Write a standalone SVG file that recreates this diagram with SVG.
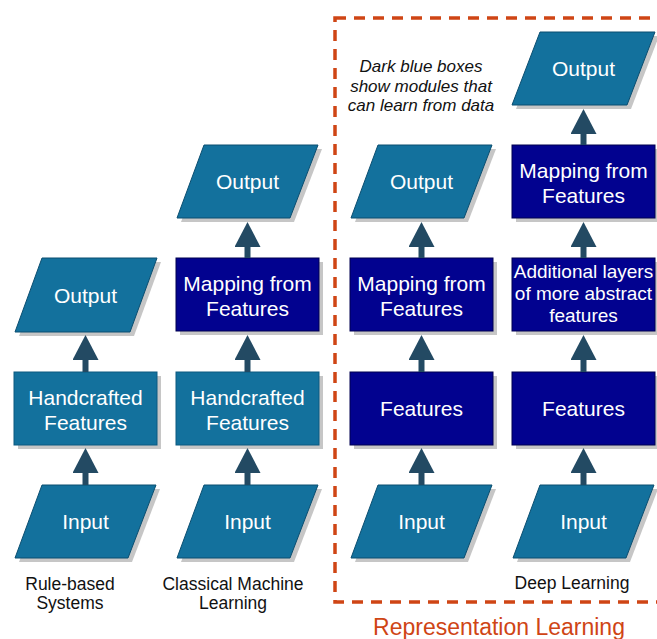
<svg xmlns="http://www.w3.org/2000/svg" width="657" height="639" viewBox="0 0 657 639">
  <style>
    .io { fill: #13719d; stroke: #0b4e70; stroke-width: 1; }
    .hand { fill: #13719d; stroke: #0c5a80; stroke-width: 1; }
    .learn { fill: #02028f; stroke: #000050; stroke-width: 1; }
    .shadow { fill: #c6c6c6; }
    .box-text { font-family: "Liberation Sans", Arial, sans-serif; font-size: 21px; fill: #ffffff; text-anchor: middle; }
    .small-text { font-size: 19px; }
    .label { font-family: "Liberation Sans", Arial, sans-serif; font-size: 17.5px; fill: #111111; text-anchor: middle; }
    .note { font-family: "Liberation Sans", Arial, sans-serif; font-size: 17px; font-style: italic; fill: #111111; text-anchor: middle; }
    .region { fill: none; stroke: #cf4515; stroke-width: 3.5; stroke-dasharray: 11 8; }
    .region-title { font-family: "Liberation Sans", Arial, sans-serif; font-size: 23px; fill: #cf4515; text-anchor: middle; }
    .conn { stroke: #234a63; stroke-width: 6; fill: none; marker-end: url(#head); }
  </style>
  <defs>
    <marker id="head" viewBox="0 0 25 26" refX="0" refY="13" markerWidth="25" markerHeight="26" markerUnits="userSpaceOnUse" orient="auto">
      <path d="M0,0 L25,13 L0,26 Z" fill="#234a63"/>
    </marker>
  </defs>
  <rect width="657" height="639" fill="#ffffff"/>

  <!-- representation learning region -->
  <g id="region">
    <rect class="region" x="335" y="18" width="330" height="584"/>
    <text class="region-title" x="499" y="635">Representation Learning</text>
    <text class="note" x="421" y="72">Dark blue boxes</text>
    <text class="note" x="421" y="92">show modules that</text>
    <text class="note" x="421" y="111">can learn from data</text>
  </g>

  <!-- column 1: rule-based systems -->
  <g id="c1-input">
    <polygon class="shadow" points="46,489 160,489 132,562 19,562"/>
    <polygon class="io" points="42,485 156,485 128,558 15,558"/>
    <text class="box-text" x="85.5" y="529">Input</text>
  </g>
  <g id="c1-features">
    <rect class="shadow" x="18" y="376" width="143" height="73"/>
    <rect class="hand" x="14" y="372" width="143" height="73"/>
    <text class="box-text" x="85.5" y="405">Handcrafted</text>
    <text class="box-text" x="85.5" y="430">Features</text>
  </g>
  <g id="c1-output">
    <polygon class="shadow" points="46,262 161,262 134,336 19,336"/>
    <polygon class="io" points="42,258 157,258 130,332 15,332"/>
    <text class="box-text" x="85.5" y="302.5">Output</text>
  </g>
  <g id="c1-label">
    <text class="label" x="70" y="590">Rule-based</text>
    <text class="label" x="70" y="609">Systems</text>
  </g>

  <!-- column 2: classical machine learning -->
  <g id="c2-input">
    <polygon class="shadow" points="208,489 322,489 294,562 181,562"/>
    <polygon class="io" points="204,485 318,485 290,558 177,558"/>
    <text class="box-text" x="247.5" y="529">Input</text>
  </g>
  <g id="c2-features">
    <rect class="shadow" x="180" y="376" width="143" height="73"/>
    <rect class="hand" x="176" y="372" width="143" height="73"/>
    <text class="box-text" x="247.5" y="405">Handcrafted</text>
    <text class="box-text" x="247.5" y="430">Features</text>
  </g>
  <g id="c2-mapping">
    <rect class="shadow" x="180" y="262" width="143" height="73"/>
    <rect class="learn" x="176" y="258" width="143" height="73"/>
    <text class="box-text" x="247.5" y="291">Mapping from</text>
    <text class="box-text" x="247.5" y="316">Features</text>
  </g>
  <g id="c2-output">
    <polygon class="shadow" points="208,149 322,149 294,222 181,222"/>
    <polygon class="io" points="204,145 318,145 290,218 177,218"/>
    <text class="box-text" x="247.5" y="189">Output</text>
  </g>
  <g id="c2-label">
    <text class="label" x="233" y="590">Classical Machine</text>
    <text class="label" x="233" y="609">Learning</text>
  </g>

  <!-- column 3: representation learning -->
  <g id="c3-input">
    <polygon class="shadow" points="382,489 496,489 468,562 355,562"/>
    <polygon class="io" points="378,485 492,485 464,558 351,558"/>
    <text class="box-text" x="421.5" y="529">Input</text>
  </g>
  <g id="c3-features">
    <rect class="shadow" x="354" y="376" width="143" height="73"/>
    <rect class="learn" x="350" y="372" width="143" height="73"/>
    <text class="box-text" x="421.5" y="416">Features</text>
  </g>
  <g id="c3-mapping">
    <rect class="shadow" x="354" y="262" width="143" height="73"/>
    <rect class="learn" x="350" y="258" width="143" height="73"/>
    <text class="box-text" x="421.5" y="291">Mapping from</text>
    <text class="box-text" x="421.5" y="316">Features</text>
  </g>
  <g id="c3-output">
    <polygon class="shadow" points="382,149 496,149 468,222 355,222"/>
    <polygon class="io" points="378,145 492,145 464,218 351,218"/>
    <text class="box-text" x="421.5" y="189">Output</text>
  </g>

  <!-- column 4: deep learning -->
  <g id="c4-input">
    <polygon class="shadow" points="544,489 658,489 630,562 517,562"/>
    <polygon class="io" points="540,485 654,485 626,558 513,558"/>
    <text class="box-text" x="583.5" y="529">Input</text>
  </g>
  <g id="c4-features">
    <rect class="shadow" x="516" y="376" width="143" height="73"/>
    <rect class="learn" x="512" y="372" width="143" height="73"/>
    <text class="box-text" x="583.5" y="416">Features</text>
  </g>
  <g id="c4-abstract">
    <rect class="shadow" x="516" y="262" width="143" height="73"/>
    <rect class="learn" x="512" y="258" width="143" height="73"/>
    <text class="box-text small-text" x="583.5" y="278">Additional layers</text>
    <text class="box-text small-text" x="583.5" y="300">of more abstract</text>
    <text class="box-text small-text" x="583.5" y="322">features</text>
  </g>
  <g id="c4-mapping">
    <rect class="shadow" x="516" y="149" width="143" height="73"/>
    <rect class="learn" x="512" y="145" width="143" height="73"/>
    <text class="box-text" x="583.5" y="178">Mapping from</text>
    <text class="box-text" x="583.5" y="203">Features</text>
  </g>
  <g id="c4-output">
    <polygon class="shadow" points="544,36 659,36 631,109 516,109"/>
    <polygon class="io" points="540,32 655,32 627,105 512,105" stroke="#102a3a"/>
    <text class="box-text" x="583.5" y="76">Output</text>
  </g>
  <g id="c4-label">
    <text class="label" x="572" y="589">Deep Learning</text>
  </g>

  <!-- connectors -->
  <g id="connectors">
    <line class="conn" x1="85.5" y1="485" x2="85.5" y2="473"/>
    <line class="conn" x1="85.5" y1="372" x2="85.5" y2="360"/>

    <line class="conn" x1="247.5" y1="485" x2="247.5" y2="473"/>
    <line class="conn" x1="247.5" y1="372" x2="247.5" y2="360"/>
    <line class="conn" x1="247.5" y1="258" x2="247.5" y2="247"/>

    <line class="conn" x1="421.5" y1="485" x2="421.5" y2="473"/>
    <line class="conn" x1="421.5" y1="372" x2="421.5" y2="360"/>
    <line class="conn" x1="421.5" y1="258" x2="421.5" y2="247"/>

    <line class="conn" x1="583.5" y1="485" x2="583.5" y2="473"/>
    <line class="conn" x1="583.5" y1="372" x2="583.5" y2="360"/>
    <line class="conn" x1="583.5" y1="258" x2="583.5" y2="247"/>
    <line class="conn" x1="583.5" y1="145" x2="583.5" y2="134"/>
  </g>
</svg>
